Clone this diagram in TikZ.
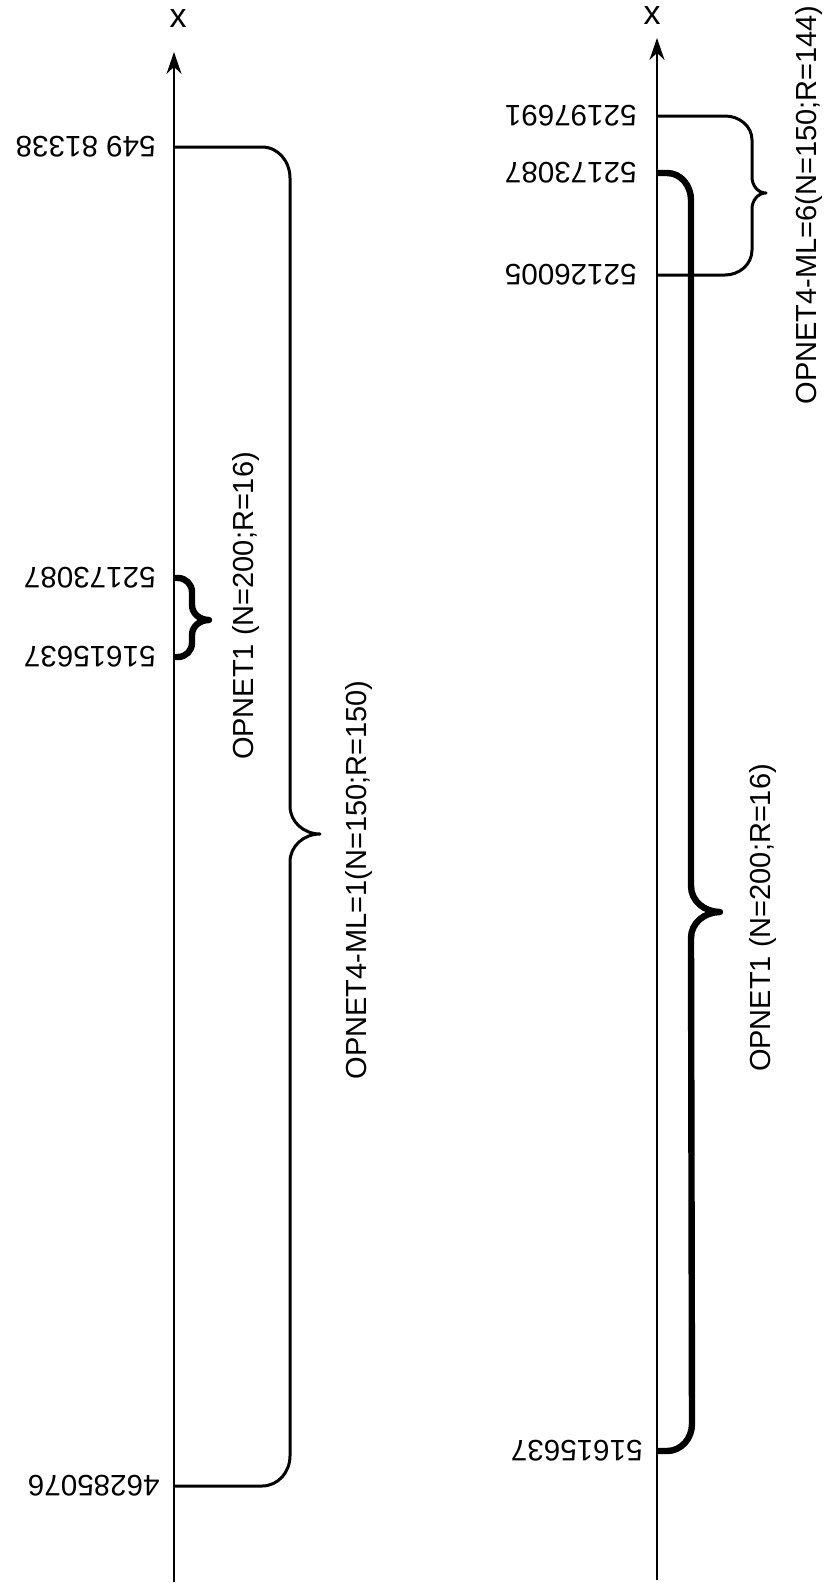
\documentclass[tikz,border=0pt]{standalone}
\usepackage{fontspec}
\setmainfont{Liberation Sans}
\usepackage{tikz}
\usetikzlibrary{
    positioning,
    arrows.meta
}

\begin{document}
\begin{tikzpicture}[
    x=0.5pt, y=-0.5pt,
    axis/.style={line width=1pt, -{Stealth[length=11pt, width=7.5pt]}},
    thinbrace/.style={line width=1.5pt, line join=round},
    boldbrace/.style={line width=3.2pt, line join=round},
    num/.style={rotate=180, anchor=west, inner sep=0pt, font=\fontsize{14.8}{16}\selectfont},
    lbl/.style={rotate=90, inner sep=0pt, font=\fontsize{14.5}{16}\selectfont},
    axname/.style={inner sep=0pt, font=\fontsize{17}{18}\selectfont},
]
\useasboundingbox (0,0) rectangle (827,1585);

% left axis
\coordinate (lbot) at (174,1582);
\coordinate (ltop) at (174,52);
\draw[axis] (lbot) -- (ltop);
\node[axname] (lx) at (178,19) {x};

\coordinate (la) at (174,147);
\coordinate (lb) at (174,578);
\coordinate (lc) at (174,657);
\coordinate (ld) at (174,1486);

\node[num] (nla) at ([xshift=-9pt]la) {549 81338};
\node[num] (nlb) at ([xshift=-9pt]lb) {52173087};
\node[num] (nlc) at ([xshift=-9pt]lc) {51615637};
\node[num] (nld) at ([xshift=-7pt]ld) {46285076};

% OPNET4-ML=1
\draw[thinbrace] (la) -- (262,147) to[out=0,in=90] (290,178) -- (290,806)
    to[out=-90,in=180] (320,834) to[out=180,in=90] (290,862)
    -- (290,1456) to[out=-90,in=0] (262,1486) -- (ld);
% OPNET1
\draw[boldbrace] (lb) -- (178,578) to[out=0,in=90] (192,592) -- (192,605)
    to[out=-90,in=180] (209,620) to[out=180,in=90] (192,635)
    -- (192,643) to[out=-90,in=0] (178,657) -- (lc);

\node[lbl] (opl1) at (246,606) {OPNET1 (N=200;R=16)};
\node[lbl] (opl4) at (359,880) {OPNET4-ML=1(N=150;R=150)};

% right axis
\coordinate (rbot) at (657,1580);
\coordinate (rtop) at (657,38);
\draw[axis] (rbot) -- (rtop);
\node[axname] (rx) at (652,16) {x};

\coordinate (ra) at (657,116);
\coordinate (rb) at (657,173);
\coordinate (rc) at (657,275);
\coordinate (rd) at (657,1451);

\node[num] (nra) at ([xshift=-10pt]ra) {52197691};
\node[num] (nrb) at ([xshift=-10pt]rb) {52173087};
\node[num] (nrc) at ([xshift=-10pt]rc) {52126005};
\node[num] (nrd) at ([xshift=-7pt]rd) {51615637};

% OPNET4-ML=6
\draw[thinbrace] (ra) -- (725,116) to[out=0,in=90] (752,140) -- (752,177)
    to[out=-90,in=180] (766,193) to[out=180,in=90] (752,209)
    -- (752,250) to[out=-90,in=0] (725,275) -- (rc);
% OPNET1
\draw[boldbrace] (rb) -- (667,173) to[out=0,in=90] (691,200) -- (691,886)
    to[out=-90,in=180] (720,912) to[out=180,in=90] (691,938)
    -- (692,1424) to[out=-90,in=0] (667,1451) -- (rd);

\node[lbl] (opr4) at (809,205) {OPNET4-ML=6(N=150;R=144)};
\node[lbl] (opr1) at (763,918) {OPNET1 (N=200;R=16)};
\end{tikzpicture}
\end{document}
